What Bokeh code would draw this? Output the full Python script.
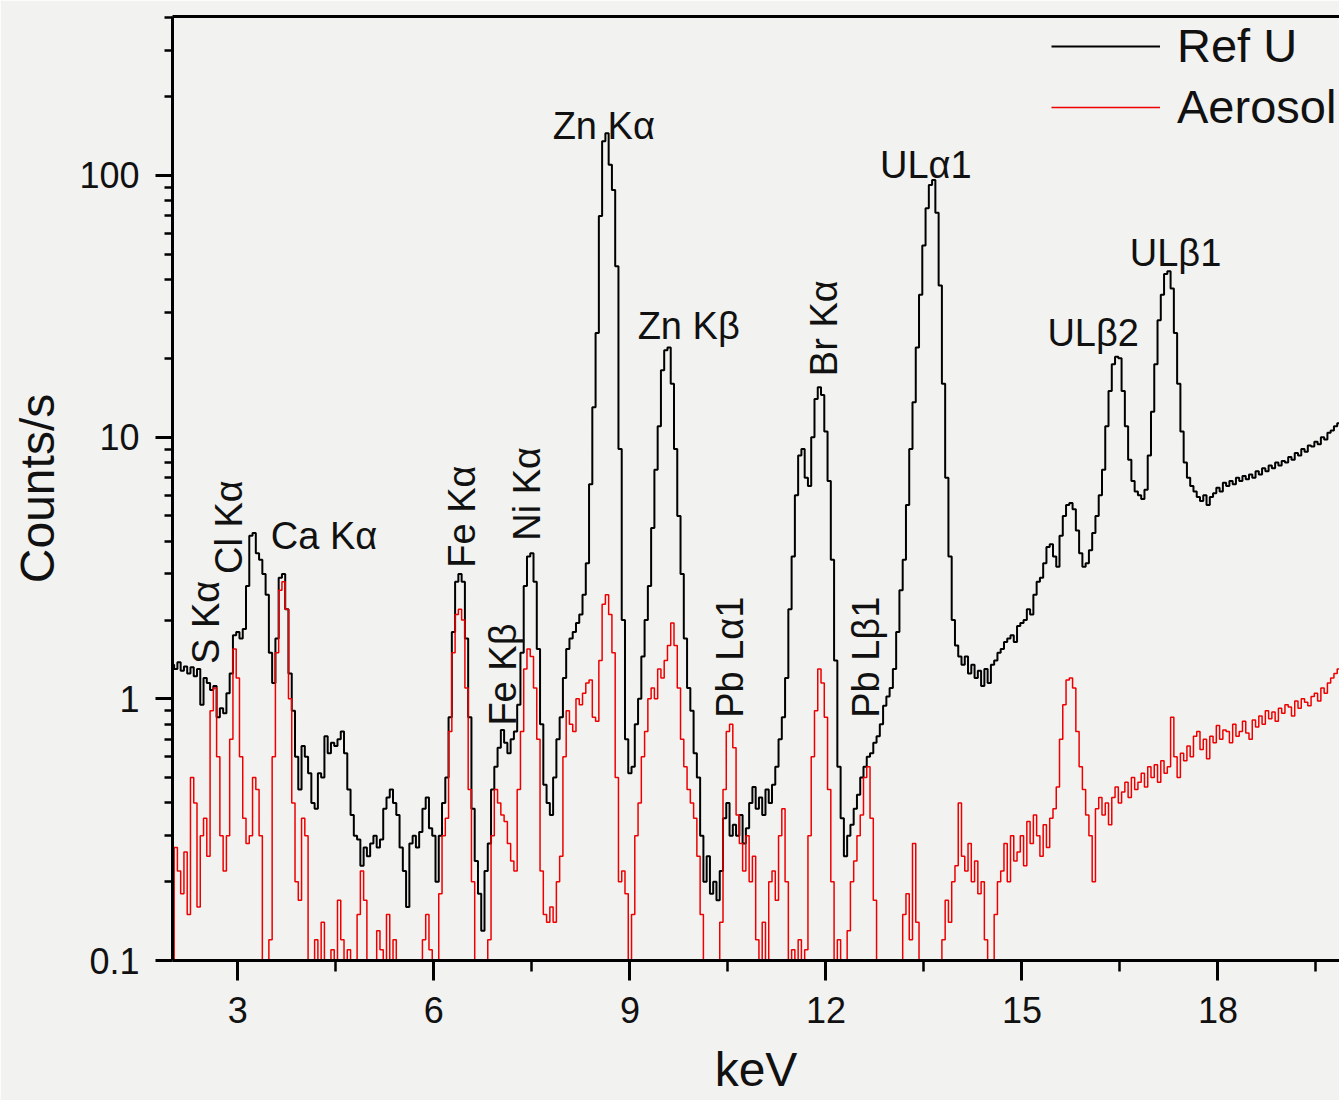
from bokeh.plotting import figure
from bokeh.models import (FixedTicker, LinearAxis, Legend, LegendItem, Range1d,
                          ColumnDataSource)
from bokeh.core.properties import value
from bokeh.embed import file_html
from bokeh.resources import INLINE

# ---------------- data ----------------
kev_start = 2.0      # first channel energy (keV)
kev_step = 0.05      # channel width (keV)

# Ref U spectrum, counts/s, one row per keV (2.00 ... 19.95)
ref_u = [
    1.35, 1.30, 1.38, 1.28, 1.33, 1.25, 1.32, 1.22, 1.30, 0.95, 1.20, 1.15, 1.08, 1.12, 0.85, 0.92, 0.88, 1.05, 1.25, 1.75,
    1.80, 1.70, 1.85, 2.7, 4.2, 4.3, 3.6, 3.4, 3.0, 2.5, 1.5, 1.15, 1.7, 2.9, 3.0, 2.2, 1.25, 0.9, 0.6, 0.45,
    0.66, 0.60, 0.52, 0.40, 0.38, 0.52, 0.50, 0.72, 0.62, 0.68, 0.66, 0.70, 0.75, 0.62, 0.45, 0.36, 0.30, 0.29, 0.23, 0.27,
    0.25, 0.28, 0.30, 0.27, 0.29, 0.38, 0.42, 0.45, 0.40, 0.36, 0.27, 0.22, 0.16, 0.28, 0.30, 0.27, 0.31, 0.38, 0.42, 0.32,
    0.30, 0.20, 0.30, 0.40, 0.50, 0.85, 1.8, 2.8, 3.0, 2.8, 1.7, 0.85, 0.38, 0.24, 0.18, 0.13, 0.22, 0.28, 0.45, 0.55,
    0.65, 0.76, 0.68, 0.62, 0.70, 0.75, 0.95, 1.5, 2.7, 3.5, 3.6, 2.8, 1.55, 0.8, 0.47, 0.40, 0.36, 0.50, 0.70, 0.85,
    1.2, 1.55, 1.7, 1.8, 1.95, 2.1, 2.5, 3.3, 6.6, 13, 25, 70, 135, 145, 110, 88, 45, 9, 2.0, 0.7,
    0.52, 0.55, 0.8, 1.0, 1.45, 2.0, 2.7, 4.5, 7.5, 11, 18, 21.5, 22, 16, 9, 5, 3.0, 1.7, 1.1, 0.9,
    0.62, 0.5, 0.3, 0.2, 0.25, 0.18, 0.2, 0.17, 0.22, 0.35, 0.40, 0.30, 0.33, 0.30, 0.36, 0.28, 0.32, 0.40, 0.46, 0.38,
    0.42, 0.36, 0.45, 0.40, 0.47, 0.55, 0.70, 0.85, 1.2, 2.2, 3.5, 6.0, 8.5, 9.0, 7.0, 6.5, 10, 14, 15.5, 14.5,
    10.5, 6.8, 3.4, 1.4, 0.55, 0.35, 0.25, 0.3, 0.33, 0.38, 0.43, 0.5, 0.55, 0.6, 0.62, 0.68, 0.72, 0.8, 0.94, 1.02,
    1.1, 1.3, 1.8, 2.6, 3.4, 5.5, 9, 13.6, 22, 35, 54, 75, 92, 96, 72, 38, 16, 7, 3.5, 2.0,
    1.6, 1.45, 1.35, 1.45, 1.25, 1.35, 1.2, 1.28, 1.12, 1.3, 1.15, 1.35, 1.4, 1.5, 1.55, 1.65, 1.7, 1.75, 1.65, 1.9,
    1.95, 2.0, 2.2, 2.1, 2.5, 2.8, 2.9, 3.3, 3.8, 3.9, 3.5, 3.2, 4.2, 5.0, 5.5, 5.6, 5.3, 4.4, 3.6, 3.2,
    3.3, 3.7, 4.3, 5.0, 6.0, 7.5, 11, 15, 19, 20.3, 20, 15, 11, 8.2, 6.8, 6.2, 6.0, 5.8, 6.3, 8.5,
    12.5, 19, 28, 35, 42, 43, 37, 25, 16, 10.5, 8.0, 7.0, 6.5, 6.2, 5.9, 5.7, 6.0, 5.5, 5.9, 6.1,
    6.4, 6.2, 6.7, 6.5, 6.8, 6.6, 7.0, 6.8, 7.1, 6.9, 7.2, 7.0, 7.4, 7.2, 7.6, 7.4, 7.8, 7.6, 8.0, 7.8,
    8.1, 8.0, 8.4, 8.2, 8.7, 8.5, 9.0, 8.8, 9.3, 9.2, 9.6, 9.4, 10.0, 9.8, 10.4, 10.6, 11.0, 11.3, 11.5, 11.8,
]

# Aerosol spectrum, counts/s (values under 0.1 fall below the axis)
aerosol = [
    0.06, 0.27, 0.22, 0.18, 0.26, 0.15, 0.5, 0.4, 0.16, 0.3, 0.35, 0.25, 0.9, 1.1, 0.6, 0.3, 0.22, 0.3, 0.7, 1.55,
    1.2, 0.6, 0.35, 0.28, 0.3, 0.5, 0.45, 0.3, 0.06, 0.06, 0.12, 0.6, 1.5, 2.6, 2.8, 2.2, 1.0, 0.4, 0.2, 0.17,
    0.35, 0.3, 0.06, 0.06, 0.12, 0.06, 0.14, 0.06, 0.06, 0.11, 0.06, 0.17, 0.12, 0.06, 0.11, 0.06, 0.06, 0.15, 0.22, 0.17,
    0.06, 0.06, 0.06, 0.13, 0.11, 0.06, 0.15, 0.06, 0.12, 0.06, 0.06, 0.06, 0.06, 0.06, 0.06, 0.06, 0.06, 0.12, 0.15, 0.11,
    0.06, 0.1, 0.18, 0.3, 0.35, 0.75, 1.5, 2.1, 2.2, 2.0, 1.1, 0.45, 0.2, 0.06, 0.06, 0.06, 0.06, 0.12, 0.3, 0.45,
    0.4, 0.36, 0.34, 0.28, 0.24, 0.22, 0.45, 0.75, 1.3, 1.55, 1.45, 1.1, 0.7, 0.22, 0.15, 0.14, 0.16, 0.14, 0.2, 0.25,
    0.6, 0.9, 0.8, 0.75, 1.0, 0.95, 1.05, 1.15, 1.18, 0.85, 0.82, 1.4, 2.3, 2.5, 2.1, 1.5, 0.5, 0.2, 0.22, 0.18,
    0.06, 0.15, 0.3, 0.4, 0.6, 0.75, 1.0, 1.1, 1.0, 1.3, 1.2, 1.4, 1.6, 1.95, 1.6, 1.1, 0.7, 0.55, 0.45, 0.4,
    0.35, 0.25, 0.15, 0.06, 0.06, 0.06, 0.06, 0.06, 0.14, 0.45, 0.75, 0.8, 0.65, 0.36, 0.28, 0.22, 0.3, 0.2, 0.25, 0.12,
    0.06, 0.14, 0.06, 0.2, 0.22, 0.17, 0.3, 0.38, 0.2, 0.06, 0.11, 0.06, 0.12, 0.06, 0.11, 0.3, 0.6, 0.9, 1.3, 1.15,
    0.85, 0.45, 0.2, 0.06, 0.12, 0.06, 0.06, 0.13, 0.2, 0.24, 0.3, 0.36, 0.5, 0.55, 0.35, 0.17, 0.06, 0.06, 0.06, 0.06,
    0.06, 0.06, 0.06, 0.06, 0.15, 0.18, 0.12, 0.28, 0.14, 0.1, 0.06, 0.06, 0.06, 0.06, 0.06, 0.06, 0.12, 0.17, 0.14, 0.2,
    0.23, 0.4, 0.25, 0.22, 0.28, 0.2, 0.24, 0.18, 0.2, 0.12, 0.06, 0.1, 0.15, 0.2, 0.22, 0.28, 0.2, 0.3, 0.24, 0.26,
    0.3, 0.23, 0.34, 0.28, 0.36, 0.3, 0.25, 0.33, 0.27, 0.35, 0.38, 0.46, 0.7, 0.95, 1.18, 1.2, 1.1, 0.75, 0.55, 0.45,
    0.36, 0.3, 0.2, 0.38, 0.42, 0.36, 0.4, 0.33, 0.42, 0.46, 0.4, 0.44, 0.48, 0.42, 0.5, 0.45, 0.48, 0.52, 0.46, 0.55,
    0.5, 0.56, 0.48, 0.58, 0.52, 0.55, 0.85, 0.6, 0.5, 0.62, 0.58, 0.66, 0.6, 0.72, 0.75, 0.64, 0.7, 0.59, 0.72, 0.68,
    0.79, 0.7, 0.76, 0.75, 0.68, 0.8, 0.72, 0.75, 0.82, 0.74, 0.7, 0.83, 0.78, 0.86, 0.8, 0.9, 0.84, 0.89, 0.82, 0.92,
    0.88, 0.95, 0.93, 0.86, 0.98, 0.92, 1.0, 0.97, 0.94, 1.02, 1.05, 0.98, 1.1, 1.05, 1.15, 1.2, 1.25, 1.3, 1.32, 1.35,
]

kev = [round(kev_start + kev_step * i, 2) for i in range(len(ref_u))]

series_names = ["Ref U", "Aerosol"]

x_ticks = [3, 6, 9, 12, 15, 18]
x_minor_ticks = [4.5, 7.5, 10.5, 13.5, 16.5, 19.5]
y_ticks = [0.1, 1, 10, 100]
y_tick_labels = ["0.1", "1", "10", "100"]
y_minor_ticks = [0.2, 0.3, 0.4, 0.5, 0.6, 0.7, 0.8, 0.9,
                 2, 3, 4, 5, 6, 7, 8, 9,
                 20, 30, 40, 50, 60, 70, 80, 90,
                 200, 300, 400]

# peak labels written horizontally
h_labels = ["Zn Kα", "Zn Kβ", "ULα1", "ULβ2", "ULβ1", "Ca Kα"]
h_x = [8.6, 9.9, 13.53, 16.09, 17.35, 4.32]
h_y = [155, 26.6, 110, 25.0, 50.6, 4.2]

# peak labels written vertically (reading upward)
v_labels = ["S Kα", "Cl Kα", "Fe Kα", "Fe Kβ", "Ni Kα", "Pb Lα1", "Br Kα", "Pb Lβ1"]
v_x = [2.51, 2.86, 6.43, 7.06, 7.42, 10.53, 11.97, 12.61]
v_y = [1.36, 3.0, 3.17, 0.79, 4.02, 0.846, 17.1, 0.846]

# ---------------- figure ----------------
BG = "#f2f2f0"
FONT = "Liberation Sans"

p = figure(width=1339, height=1100, y_axis_type="log",
           x_range=Range1d(2.0, 19.86), y_range=Range1d(0.1, 405),
           output_backend="svg", toolbar_location=None,
           min_border_left=172, min_border_right=0, min_border_top=16, min_border_bottom=140,
           background_fill_color=BG, border_fill_color=BG, outline_line_color=None)
p.grid.visible = False

src = ColumnDataSource(dict(kev=kev, ref_u=ref_u, aerosol=aerosol))
r_ref = p.step("kev", "ref_u", source=src, mode="center", line_color="black", line_width=2)
r_aer = p.step("kev", "aerosol", source=src, mode="center", line_color="#ee0000", line_width=1.5)

# axes
xa = p.xaxis[0]
xa.ticker = FixedTicker(ticks=x_ticks, minor_ticks=x_minor_ticks)
xa.axis_label = "keV"
ya = p.yaxis[0]
ya.ticker = FixedTicker(ticks=y_ticks, minor_ticks=y_minor_ticks)
ya.major_label_overrides = dict(zip(y_ticks, y_tick_labels))
ya.axis_label = "Counts/s"

for ax in (xa, ya):
    ax.axis_line_width = 3
    ax.axis_line_color = "black"
    ax.major_tick_line_width = 3
    ax.minor_tick_line_width = 2.5
    ax.major_tick_in = 0
    ax.minor_tick_in = 0
    ax.major_label_text_font = FONT
    ax.major_label_text_font_size = "36px"
    ax.major_label_text_color = "#111111"
    ax.axis_label_text_font = FONT
    ax.axis_label_text_font_size = "48px"
    ax.axis_label_text_font_style = "normal"
    ax.axis_label_text_color = "#111111"

xa.major_tick_out = 20
xa.minor_tick_out = 11
xa.major_label_standoff = 16
xa.axis_label_standoff = 17
ya.major_tick_out = 17
ya.minor_tick_out = 8
ya.major_label_standoff = 16
ya.axis_label_standoff = 12

top_axis = LinearAxis(ticker=FixedTicker(ticks=[]), axis_line_width=3, axis_line_color="black",
                      major_tick_line_color=None, minor_tick_line_color=None,
                      major_label_text_font_size="0px")
p.add_layout(top_axis, "above")

# peak labels
p.text(x=h_x, y=h_y, text=h_labels, text_font=value(FONT), text_font_size="38px",
       text_align="center", text_baseline="alphabetic", text_color="#111111")
p.text(x=v_x, y=v_y, text=v_labels, text_font=value(FONT), text_font_size="38px",
       angle=90, angle_units="deg", text_align="left", text_baseline="middle",
       text_color="#111111")

legend = Legend(items=[LegendItem(label=series_names[0], renderers=[r_ref]),
                       LegendItem(label=series_names[1], renderers=[r_aer])],
                location=(879, 826), orientation="vertical",
                background_fill_alpha=0, border_line_color=None,
                padding=0, margin=0, spacing=6,
                label_height=52, glyph_height=52, glyph_width=109, label_standoff=17,
                label_text_font=FONT, label_text_font_size="47px", label_text_color="#111111")
p.add_layout(legend)

open("out.html", "w").write(file_html(p, INLINE))
